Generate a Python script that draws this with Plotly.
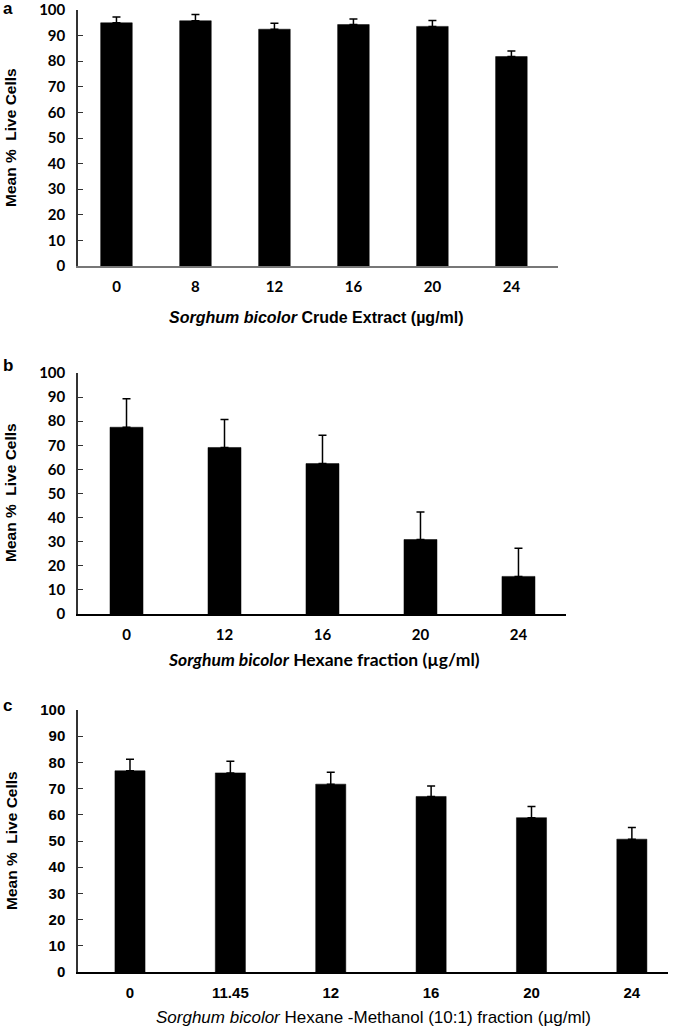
import plotly.graph_objects as go

W, H = 685, 1033

# ---------------- data ----------------
cat_a = ["0", "8", "12", "16", "20", "24"]
val_a = [95.0, 95.8, 92.5, 94.3, 93.6, 81.8]
err_a = [2.3, 2.4, 2.3, 2.2, 2.3, 2.2]

cat_b = ["0", "12", "16", "20", "24"]
val_b = [77.5, 69.1, 62.4, 30.9, 15.6]
err_b = [11.8, 11.6, 11.8, 11.4, 11.7]

cat_c = ["0", "11.45", "12", "16", "20", "24"]
val_c = [76.8, 76.0, 71.7, 67.0, 58.9, 50.7]
err_c = [4.4, 4.4, 4.5, 4.0, 4.3, 4.5]

y_ticks = [0, 10, 20, 30, 40, 50, 60, 70, 80, 90, 100]

title_a = "<b><i>Sorghum bicolor</i> Crude Extract (µg/ml)</b>"
title_b = "<i>Sorghum bicolor</i> Hexane fraction (µg/ml)"
title_c = "<i>Sorghum bicolor</i> Hexane -Methanol (10:1) fraction (µg/ml)"
y_title = "Mean %  Live Cells"


def px_x(x):
    return x / W


def px_y(y):
    return 1 - y / H


fig = go.Figure()

panels = [
    dict(cats=cat_a, vals=val_a, errs=err_a, xa="x", ya="y", bw=0.40,
         xdom=(78, 558), ydom=(10, 266), xr=(-0.487, 5.59),
         tickfont=dict(family="Lato, Liberation Sans", size=15, color="black", weight="bold"),
         xline="#777777", yline="#333333"),
    dict(cats=cat_b, vals=val_b, errs=err_b, xa="x2", ya="y2", bw=0.337,
         xdom=(78, 566), ydom=(373, 614), xr=(-0.495, 4.485),
         tickfont=dict(family="Lato, Liberation Sans", size=15, color="black", weight="bold"),
         xline="black", yline="#333333"),
    dict(cats=cat_c, vals=val_c, errs=err_c, xa="x3", ya="y3", bw=0.30,
         xdom=(78, 668), ydom=(710, 972), xr=(-0.518, 5.36),
         tickfont=dict(family="Liberation Sans, Arial", size=15, color="black", weight="bold"),
         xline="black", yline="#333333"),
]

layout_axes = {}
for i, p in enumerate(panels):
    fig.add_trace(go.Bar(
        x=p["cats"], y=p["vals"], xaxis=p["xa"], yaxis=p["ya"],
        width=p["bw"],
        marker=dict(color="black", line=dict(color="black", width=0.5)),
        error_y=dict(type="data", symmetric=False, array=p["errs"],
                     arrayminus=[0] * len(p["errs"]),
                     color="black", thickness=1.5, width=4),
        showlegend=False,
    ))
    sfx = "" if i == 0 else str(i + 1)
    layout_axes["xaxis" + sfx] = dict(
        domain=[px_x(p["xdom"][0]), px_x(p["xdom"][1])],
        anchor="y" + sfx, type="category", range=list(p["xr"]),
        showline=True, linecolor=p["xline"], linewidth=1.5,
        ticks="", showgrid=False, zeroline=False, automargin=False,
        tickfont=p["tickfont"], ticklabelstandoff=6, ticklabeloverflow="allow",
        fixedrange=True,
    )
    layout_axes["yaxis" + sfx] = dict(
        domain=[px_y(p["ydom"][1]), px_y(p["ydom"][0])],
        anchor="x" + sfx, range=[0, 100], tickvals=y_ticks,
        showline=True, linecolor=p["yline"], linewidth=1.5,
        ticks="inside", ticklen=5, tickcolor=p["yline"], tickwidth=1.2,
        showgrid=False, zeroline=False, automargin=False,
        tickfont=p["tickfont"], ticklabelstandoff=8, ticklabeloverflow="allow",
        fixedrange=True,
    )

annotations = []
# panel letters
for letter, (x, y) in zip(["a", "b", "c"], [(8, 9), (8, 365), (8, 705)]):
    annotations.append(dict(text="<b>%s</b>" % letter, x=px_x(x), y=px_y(y),
                            xref="paper", yref="paper", showarrow=False,
                            xanchor="center", yanchor="middle",
                            font=dict(family="Liberation Sans, Arial", size=17, color="black")))
# y titles
for yc in [138, 493, 841]:
    annotations.append(dict(text="<b>%s</b>" % y_title, x=px_x(11), y=px_y(yc),
                            xref="paper", yref="paper", showarrow=False, textangle=-90,
                            xanchor="center", yanchor="middle",
                            font=dict(family="Liberation Sans, Arial", size=15.5, color="black")))
# x titles
annotations.append(dict(text=title_a, x=px_x(316), y=px_y(317), xref="paper", yref="paper",
                        showarrow=False, xanchor="center", yanchor="middle",
                        font=dict(family="Liberation Sans, Arial", size=16, color="black")))
annotations.append(dict(text=title_b, x=px_x(324), y=px_y(659), xref="paper", yref="paper",
                        showarrow=False, xanchor="center", yanchor="middle",
                        font=dict(family="Lato, Liberation Sans", size=17.5, color="black", weight="bold")))
annotations.append(dict(text=title_c, x=px_x(373), y=px_y(1017), xref="paper", yref="paper",
                        showarrow=False, xanchor="center", yanchor="middle",
                        font=dict(family="Liberation Sans, Arial", size=17, color="black")))

fig.update_layout(
    width=W, height=H,
    margin=dict(l=0, r=0, t=0, b=0, autoexpand=False),
    paper_bgcolor="white", plot_bgcolor="white",
    annotations=annotations,
    **layout_axes,
)

fig.write_html("out.html", include_plotlyjs=True, config={"displayModeBar": False},
               post_script="document.body.style.margin='0px';document.body.style.overflow='hidden';")
